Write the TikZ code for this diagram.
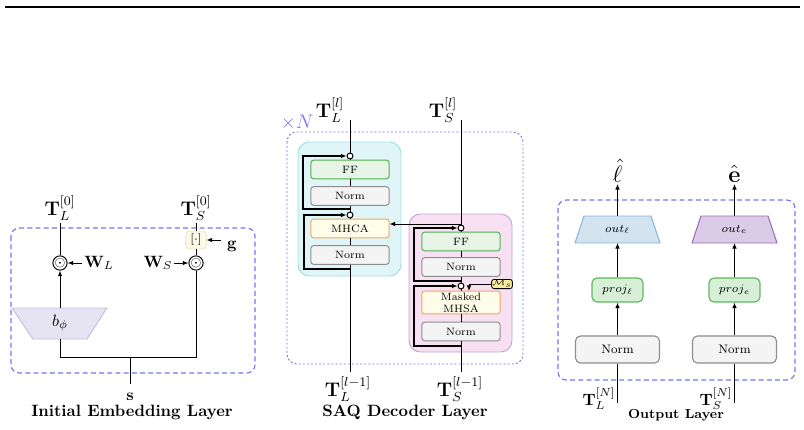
\documentclass[tikz,border=0pt]{standalone}
\usepackage{amsmath,amssymb}
\usetikzlibrary{arrows.meta,calc}
\definecolor{dashblue}{HTML}{7474F4}
\definecolor{bphifill}{HTML}{E6E3F3}
\definecolor{bphidraw}{HTML}{C4BEE4}
\definecolor{brkfill}{HTML}{FBF9E6}
\definecolor{brkdraw}{HTML}{E4E0BC}
\definecolor{cyanfill}{HTML}{E0F5F8}
\definecolor{cyandraw}{HTML}{9EDFEA}
\definecolor{pinkfill}{HTML}{F6E0F2}
\definecolor{pinkdraw}{HTML}{C6A4D8}
\definecolor{fffill}{HTML}{E7F4E6}
\definecolor{ffdraw}{HTML}{4DB04D}
\definecolor{normfill}{HTML}{F4F4F4}
\definecolor{normdraw}{HTML}{8E8E8E}
\definecolor{attfill}{HTML}{FFFDEA}
\definecolor{attdraw}{HTML}{F5A65B}
\definecolor{msfill}{HTML}{FBEEA0}
\definecolor{outlfill}{HTML}{D3E3F0}
\definecolor{outldraw}{HTML}{86B6DD}
\definecolor{outefill}{HTML}{DCCBE6}
\definecolor{outedraw}{HTML}{9A6CC0}
\definecolor{projfill}{HTML}{D7EFD6}
\definecolor{projdraw}{HTML}{5CB85C}
\begin{document}
\begin{tikzpicture}[x=0.61pt,y=-0.61pt,
  >={Latex[length=3.4pt,width=2.8pt]},
  ln/.style={line width=0.6pt},
  loopln/.style={line width=0.75pt},
  bluedash/.style={draw=dashblue, line width=0.7pt, dash pattern=on 3pt off 2pt, rounded corners=5pt},
  bluedot/.style={draw=dashblue, line width=0.6pt, dash pattern=on 1.2pt off 1.3pt, rounded corners=6pt},
  decbox/.style={draw, rounded corners=1.5pt, minimum width=47.6pt, minimum height=11.3pt, inner sep=0pt, line width=0.6pt, font=\fontsize{6.5}{7.4}\selectfont},
  ffbox/.style={decbox, draw=ffdraw, fill=fffill},
  normbox/.style={decbox, draw=normdraw, fill=normfill},
  attbox/.style={decbox, draw=attdraw, fill=attfill},
  addc/.style={circle, draw, fill=white, inner sep=0pt, minimum size=3.6pt, line width=0.6pt},
  odotc/.style={circle, draw, inner sep=0pt, minimum size=8.6pt, line width=0.6pt, font=\footnotesize},
  lbl/.style={font=\large, inner sep=1pt},
  titl/.style={font=\bfseries, inner sep=0pt},
  projbox/.style={draw=projdraw, fill=projfill, rounded corners=3pt, minimum width=31.1pt, minimum height=14.6pt, inner sep=0pt, line width=0.7pt, font=\fontsize{7}{8}\selectfont},
  onorm/.style={draw=normdraw, fill=normfill, rounded corners=3pt, minimum width=51.2pt, minimum height=16.5pt, inner sep=0pt, line width=0.7pt, font=\fontsize{7.5}{8.5}\selectfont}
]
\useasboundingbox (0,0) rectangle (804,430);
% top rule
\draw[line width=1pt] (5,7) -- (800,7);

% ---------------- Initial Embedding Layer ----------------
\draw[bluedash] (11,228) rectangle (255,373);
\node[lbl] (TL0) at (60,208) {$\mathbf{T}_L^{[0]}$};
\node[odotc] (cL) at (60,263) {$\odot$};
\node[inner sep=1pt] (WL) at (99,263) {$\mathbf{W}_L$};
\draw[->,ln] (WL.west) -- (cL.east);
\draw[ln] (TL0.south) -- (cL.north);
\draw[fill=bphifill, draw=bphidraw, line width=0.6pt] (12,308) -- (107,308) -- (87,339) -- (33,339) -- cycle;
\node (bphi) at (60,323) {$b_\phi$};
\coordinate (btop) at (60,308);
\coordinate (bbot) at (60,339);
\draw[->,ln] (btop) -- (cL.south);
\node[odotc] (cS) at (196,263) {$\odot$};
\node[inner sep=1pt] (WS) at (158,263) {$\mathbf{W}_S$};
\draw[->,ln] (WS.east) -- (cS.west);
\node[draw=brkdraw, fill=brkfill, rounded corners=2pt, minimum width=12.5pt, minimum height=10.8pt, inner sep=0pt, font=\scriptsize] (brk) at (196,240) {$[\cdot]$};
\node[lbl] (TS0) at (196,208) {$\mathbf{T}_S^{[0]}$};
\draw[ln] (cS.north) -- (brk.south);
\draw[ln] (brk.north) -- (TS0.south);
\node (g) at (232,246) {$\mathbf{g}$};
\coordinate (gs) at (221,240);
\draw[->,ln] (gs) -- (brk.east);
\coordinate (jL) at (60,357);
\coordinate (jR) at (196,357);
\coordinate (jM) at (130,357);
\draw[ln] (bbot) -- (jL) -- (jR) -- (cS.south);
\node (s) at (130,397) {$\mathbf{s}$};
\coordinate (sTop) at (130,384);
\draw[ln] (sTop) -- (jM);
\node[titl] (t1) at (132,412) {Initial Embedding Layer};

% ---------------- SAQ Decoder Layer ----------------
\node[text=dashblue, inner sep=0pt, font=\large] (xN) at (297,123) {$\times N$};
\draw[bluedot] (287,132) rectangle (523,364);
\draw[draw=cyandraw, fill=cyanfill, rounded corners=7pt, line width=0.6pt] (298,142) rectangle (401,276);
\draw[draw=pinkdraw, fill=pinkfill, rounded corners=7pt, line width=0.6pt] (409,214) rectangle (512,352);

\node[addc] (a1) at (350,156) {};
\node[ffbox] (ffL) at (350,169.5) {FF};
\node[normbox] (nL1) at (350,196) {Norm};
\node[addc] (a2) at (350,215) {};
\node[attbox] (mhca) at (350,228.5) {MHCA};
\node[normbox] (nL2) at (350,255) {Norm};
\coordinate (tLtop) at (350,120);
\coordinate (tLbot) at (350,372);
\node[lbl] (TLl) at (330,110) {$\mathbf{T}_L^{[l]}$};
\node[lbl] (TLm) at (348,389) {$\mathbf{T}_L^{[l-1]}$};
\draw[ln] (tLtop) -- (a1) -- (ffL) -- (nL1) -- (a2) -- (mhca) -- (nL2) -- (tLbot);
\coordinate (r1) at (350,209);
\draw[loopln,->] (r1) -- ++(-47,0) |- (a1.west);
\coordinate (r2) at (350,269);
\draw[loopln,->] (r2) -- ++(-46,0) |- (a2.west);

\node[addc] (b1) at (461,228) {};
\node[ffbox] (ffS) at (461,241.5) {FF};
\node[normbox] (nS1) at (461,267) {Norm};
\node[addc] (b2) at (461,286) {};
\node[attbox, minimum height=14pt, align=center] (mhsa) at (461,302.5) {Masked\\MHSA};
\node[normbox] (nS2) at (461,331.5) {Norm};
\coordinate (tStop) at (461,120);
\coordinate (tSbot) at (461,372);
\node[lbl] (TSl) at (443,110) {$\mathbf{T}_S^{[l]}$};
\node[lbl] (TSm) at (460,389) {$\mathbf{T}_S^{[l-1]}$};
\draw[ln] (tStop) -- (b1) -- (ffS) -- (nS1) -- (b2) -- (mhsa) -- (nS2) -- (tSbot);
\coordinate (r3) at (461,281);
\draw[loopln,->] (r3) -- ++(-47,0) |- (b1.west);
\coordinate (r4) at (461,346);
\draw[loopln,->] (r4) -- ++(-47,0) |- (b2.west);
\coordinate (xS) at (461,224);
\draw[ln,->] (xS) -- (xS -| mhca.east);
\node[draw=black, fill=msfill, rounded corners=1.5pt, inner sep=0.5pt, minimum width=10.4pt, minimum height=5.6pt, font=\tiny, line width=0.5pt] (ms) at (502,284) {$\mathcal{M}_s$};
\coordinate (msd) at (469,291);
\draw[ln,->] (ms.west) -| (msd);
\node[titl] (t2) at (405,412) {SAQ Decoder Layer};

% ---------------- Output Layer ----------------
\draw[bluedash] (558,200) rectangle (795,380);
\draw[fill=outlfill, draw=outldraw, line width=0.6pt] (584,216) -- (651,216) -- (660,243) -- (575,243) -- cycle;
\node[font=\fontsize{7}{8}\selectfont] (outl) at (617.5,229.5) {$out_\ell$};
\coordinate (outlT) at (617.5,216);
\coordinate (outlB) at (617.5,243);
\draw[fill=outefill, draw=outedraw, line width=0.6pt] (701,216) -- (768,216) -- (777,243) -- (692,243) -- cycle;
\node[font=\fontsize{7}{8}\selectfont] (oute) at (734.5,229.5) {$out_e$};
\coordinate (outeT) at (734.5,216);
\coordinate (outeB) at (734.5,243);
\node[projbox] (pl) at (617.5,290) {$proj_\ell$};
\node[projbox] (pe) at (734.5,290) {$proj_e$};
\node[onorm] (onl) at (617.5,349.5) {Norm};
\node[onorm] (one) at (734.5,349.5) {Norm};
\node[anchor=south, font=\Large, inner sep=1pt] (lhat) at (617.5,184) {$\hat{\ell}$};
\node[anchor=south, font=\Large, inner sep=1pt] (ehat) at (734.5,184) {$\hat{\mathbf{e}}$};
\coordinate (oLbot) at (617.5,403);
\coordinate (oEbot) at (734.5,403);
\draw[ln] (oLbot) -- (onl);
\draw[ln,->] (onl) -- (pl);
\draw[ln,->] (pl) -- (outlB);
\draw[ln,->] (outlT) -- (lhat.south);
\draw[ln] (oEbot) -- (one);
\draw[ln,->] (one) -- (pe);
\draw[ln,->] (pe) -- (outeB);
\draw[ln,->] (outeT) -- (ehat.south);
\node (TLN) at (599,399) {$\mathbf{T}_L^{[N]}$};
\node (TSN) at (716,399) {$\mathbf{T}_S^{[N]}$};
\node[titl, font=\footnotesize\bfseries] (t3) at (676,415) {Output Layer};
\end{tikzpicture}
\end{document}
